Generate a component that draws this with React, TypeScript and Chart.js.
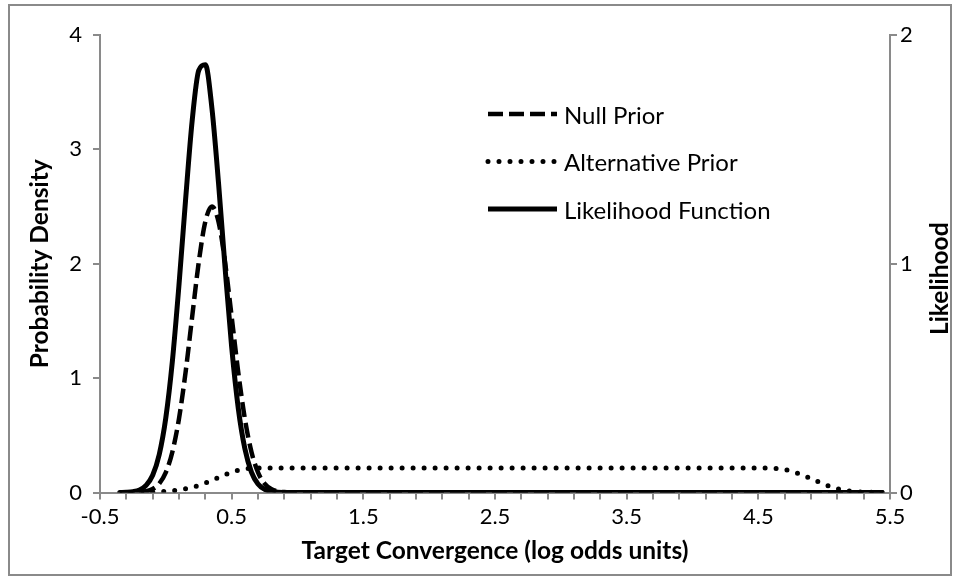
import React, { useEffect, useRef } from 'react';
import { Chart, registerables } from 'chart.js';

Chart.register(...registerables);

const FONT = 'Lato, "Open Sans", sans-serif';

// x positions (log odds units)
const xValues = [
  -0.35, -0.3, -0.25, -0.2, -0.15, -0.1, -0.05, 0, 0.05, 0.1, 0.15, 0.2, 0.25, 0.3,
  0.35, 0.4, 0.45, 0.5, 0.55, 0.6, 0.65, 0.7, 0.75, 0.8, 0.85, 0.9, 0.95, 1.0,
  1.5, 2.0, 2.5, 3.0, 3.5, 4.0, 4.5,
  4.55, 4.6, 4.65, 4.7, 4.75, 4.8, 4.85, 4.9, 4.95, 5.0, 5.05, 5.1, 5.15, 5.2,
  5.25, 5.3, 5.35, 5.4, 5.45,
];

// Null Prior (probability density, left axis)
const nullPrior = [
  0.0001, 0.0003, 0.001, 0.0036, 0.011, 0.031, 0.078, 0.176, 0.357, 0.646, 1.052, 1.536, 2.013, 2.368,
  2.5, 2.368, 2.013, 1.536, 1.052, 0.646, 0.357, 0.176, 0.078, 0.031, 0.011, 0.0036, 0.001, 0.0003,
  0, 0, 0, 0, 0, 0, 0,
  0, 0, 0, 0, 0, 0, 0, 0, 0, 0, 0, 0, 0, 0,
  0, 0, 0, 0, 0,
];

// Alternative Prior (probability density, left axis)
const alternativePrior = [
  0, 0, 0, 0.001, 0.002, 0.004, 0.007, 0.011, 0.016, 0.023, 0.033, 0.045, 0.062, 0.083,
  0.106, 0.13, 0.155, 0.177, 0.195, 0.206, 0.212, 0.214, 0.215, 0.215, 0.215, 0.215, 0.215, 0.215,
  0.215, 0.215, 0.215, 0.215, 0.215, 0.215, 0.215,
  0.215, 0.213, 0.209, 0.2, 0.188, 0.168, 0.146, 0.122, 0.096, 0.072, 0.05, 0.033, 0.02, 0.012,
  0.007, 0.004, 0.002, 0.001, 0,
];

// Likelihood Function (likelihood, right axis)
const likelihood = [
  0.0003, 0.001, 0.0036, 0.011, 0.031, 0.075, 0.166, 0.327, 0.576, 0.908, 1.28, 1.625, 1.845, 1.87,
  1.68, 1.354, 0.982, 0.636, 0.369, 0.192, 0.089, 0.037, 0.014, 0.0046, 0.0014, 0.0004, 0.0001, 0,
  0, 0, 0, 0, 0, 0, 0,
  0, 0, 0, 0, 0, 0, 0, 0, 0, 0, 0, 0, 0, 0,
  0, 0, 0, 0, 0,
];

const seriesLabels = ['Null Prior', 'Alternative Prior', 'Likelihood Function'];
const xTickLabels = ['-0.5', '0.5', '1.5', '2.5', '3.5', '4.5', '5.5'];
const leftTickLabels = ['0', '1', '2', '3', '4'];
const rightTickLabels = ['0', '1', '2'];
const xTitle = 'Target Convergence (log odds units)';
const leftTitle = 'Probability Density';
const rightTitle = 'Likelihood';

const AXIS_GRAY = '#8a8a8a';

function pts(ys: number[]) {
  return xValues.map((x, i) => ({ x, y: ys[i] }));
}

export default function App() {
  const ref = useRef<HTMLCanvasElement | null>(null);

  useEffect(() => {
    if (!ref.current) return;

    const insideLegend = {
      id: 'insideLegend',
      afterDraw(chart: any) {
        const ctx = chart.ctx;
        ctx.save();
        // outer chart border
        ctx.setLineDash([]);
        ctx.strokeStyle = AXIS_GRAY;
        ctx.lineWidth = 2;
        ctx.strokeRect(9, 5, 942, 570);

        // right axis title, reading bottom-to-top like the left one
        ctx.save();
        const area = chart.chartArea;
        ctx.translate(940, (area.top + area.bottom) / 2 + 15);
        ctx.rotate(-Math.PI / 2);
        ctx.fillStyle = '#000';
        ctx.font = `bold 24.5px ${FONT}`;
        ctx.textAlign = 'center';
        ctx.textBaseline = 'middle';
        ctx.fillText(rightTitle, 0, 0);
        ctx.restore();

        const rows = [114, 161.5, 209];
        chart.data.datasets.forEach((ds: any, i: number) => {
          const y = rows[i];
          ctx.beginPath();
          ctx.setLineDash(ds.borderDash || []);
          ctx.lineCap = ds.borderCapStyle || 'butt';
          ctx.lineWidth = ds.borderWidth;
          ctx.strokeStyle = ds.borderColor;
          ctx.moveTo(488, y);
          ctx.lineTo(557, y);
          ctx.stroke();
          ctx.setLineDash([]);
          ctx.fillStyle = '#000';
          ctx.font = `24px ${FONT}`;
          ctx.textBaseline = 'middle';
          ctx.textAlign = 'left';
          ctx.fillText(ds.label, 564, y + 2);
        });
        ctx.restore();
      },
    };

    const tickFont = { family: FONT, size: 22 };
    const titleFont = { family: FONT, size: 24.5, weight: 'bold' as const };

    const chart = new Chart(ref.current, {
      type: 'line',
      data: {
        datasets: [
          {
            label: seriesLabels[0],
            data: pts(nullPrior),
            yAxisID: 'y',
            borderColor: '#000',
            borderWidth: 4.5,
            borderDash: [15, 6],
            borderCapStyle: 'butt',
            pointRadius: 0,
            cubicInterpolationMode: 'monotone',
            fill: false,
          },
          {
            label: seriesLabels[1],
            data: pts(alternativePrior),
            yAxisID: 'y',
            borderColor: '#000',
            borderWidth: 5,
            borderDash: [0, 11],
            borderCapStyle: 'round',
            pointRadius: 0,
            cubicInterpolationMode: 'monotone',
            fill: false,
          },
          {
            label: seriesLabels[2],
            data: pts(likelihood),
            yAxisID: 'y1',
            borderColor: '#000',
            borderWidth: 5,
            borderCapStyle: 'butt',
            pointRadius: 0,
            cubicInterpolationMode: 'monotone',
            fill: false,
          },
        ],
      },
      options: {
        responsive: false,
        animation: false,
        devicePixelRatio: 1,
        layout: { padding: { left: 20, right: 0, top: 35, bottom: 5 } },
        plugins: {
          legend: { display: false },
          tooltip: { enabled: false },
        },
        scales: {
          x: {
            type: 'linear',
            min: -0.5,
            max: 5.5,
            afterFit(scale: any) {
              scale.height = 81.5;
            },
            ticks: {
              stepSize: 0.2,
              autoSkip: false,
              maxRotation: 0,
              minRotation: 0,
              padding: 4,
              color: '#000',
              font: tickFont,
              callback: (_v: any, i: number) => (i % 5 === 0 ? xTickLabels[i / 5] : ''),
            },
            grid: {
              drawOnChartArea: false,
              drawTicks: true,
              tickLength: 7,
              color: AXIS_GRAY,
              lineWidth: 2,
            },
            border: { display: true, color: AXIS_GRAY, width: 2 },
            title: {
              display: true,
              text: xTitle,
              color: '#000',
              font: titleFont,
              padding: { top: 0, bottom: 8 },
            },
          },
          y: {
            type: 'linear',
            position: 'left',
            min: 0,
            max: 4,
            afterFit(scale: any) {
              scale.width = 80;
            },
            ticks: {
              stepSize: 1,
              padding: 11,
              color: '#000',
              font: tickFont,
              callback: (_v: any, i: number) => leftTickLabels[i],
            },
            grid: {
              drawOnChartArea: false,
              drawTicks: true,
              tickLength: 7,
              color: AXIS_GRAY,
              lineWidth: 2,
            },
            border: { display: true, color: AXIS_GRAY, width: 2 },
            title: {
              display: true,
              text: leftTitle,
              color: '#000',
              font: titleFont,
              padding: { top: 5, bottom: 0 },
            },
          },
          y1: {
            type: 'linear',
            position: 'right',
            min: 0,
            max: 2,
            afterFit(scale: any) {
              scale.width = 66;
            },
            ticks: {
              stepSize: 1,
              padding: 3,
              color: '#000',
              font: tickFont,
              callback: (_v: any, i: number) => rightTickLabels[i],
            },
            grid: {
              drawOnChartArea: false,
              drawTicks: true,
              tickLength: 7,
              color: AXIS_GRAY,
              lineWidth: 2,
            },
            border: { display: true, color: AXIS_GRAY, width: 2 },
            title: { display: false },
          },
        },
      },
      plugins: [insideLegend],
    } as any);

    return () => chart.destroy();
  }, []);

  return (
    <div style={{ position: 'fixed', left: 0, top: 0, width: 956, height: 579, background: '#fff' }}>
      <canvas ref={ref} width={956} height={579} style={{ display: 'block' }} />
    </div>
  );
}
